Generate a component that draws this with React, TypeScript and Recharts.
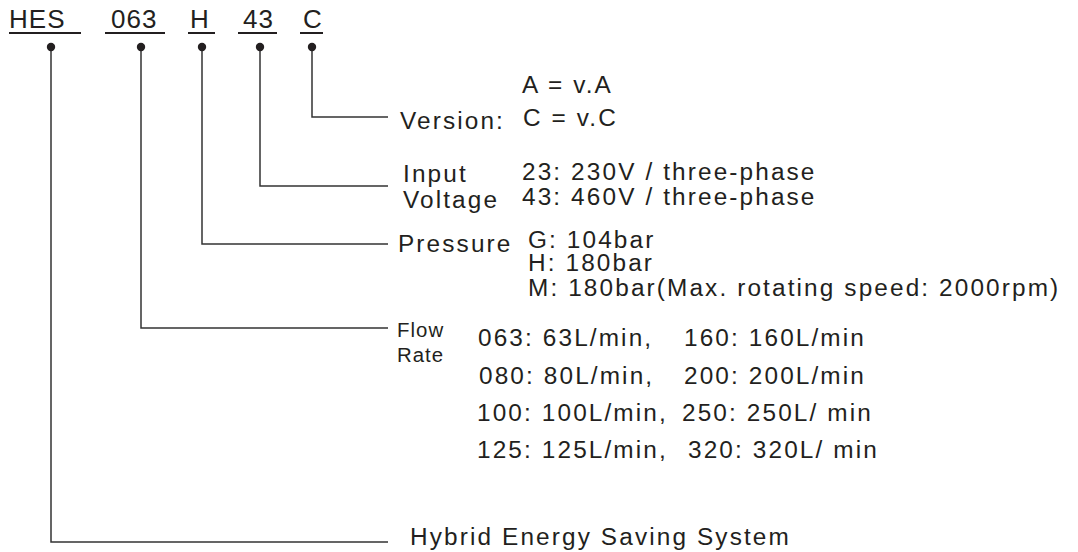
import React from "react";
import { ComposedChart, XAxis, YAxis, Line, Scatter } from "recharts";

const W = 1078;
const H = 552;

// model code parts and what each one means
const codeParts = ["HES", "063", "H", "43", "C"];
const versionOptions = ["A = v.A", "C = v.C"];
const voltageOptions = ["23: 230V / three-phase", "43: 460V / three-phase"];
const pressureOptions = ["G: 104bar", "H: 180bar", "M: 180bar(Max. rotating speed: 2000rpm)"];
const flowLeft = ["063: 63L/min,", "080: 80L/min,", "100: 100L/min,", "125: 125L/min,"];
const flowRight = ["160: 160L/min", "200: 200L/min", "250: 250L/ min", "320: 320L/ min"];
const seriesName = "Hybrid Energy Saving System";

// layout (pixel space of the picture)
const codeTextX = [9, 111, 190, 243, 303];
const underlineSpan = [
  [9, 81],
  [105, 165],
  [188, 215],
  [238, 277],
  [300, 323],
];
const dotX = [51, 141, 202, 260, 312];
const branchY = [542, 328, 244, 186, 117];
const rowY = [346, 384, 421, 458];
const BRANCH_END = 388;
const CODE_BASE = 28;
const UNDERLINE_Y = 33;
const DOT_Y = 47;

const INK = "#231f20";
const FONT = "'Liberation Sans', Arial, Helvetica, sans-serif";

const codeLabels = codeParts.map((text, i) => ({ x: codeTextX[i], y: CODE_BASE, text }));
const dots = dotX.map((x) => ({ x, y: DOT_Y }));

const underlines = underlineSpan.map(([a, b]) => [
  { x: a, y: UNDERLINE_Y },
  { x: b, y: UNDERLINE_Y },
]);
const branches = dotX.map((x, i) => [
  { x, y: DOT_Y },
  { x, y: branchY[i] },
  { x: BRANCH_END, y: branchY[i] },
]);

const mainLabels = [
  { x: 522, y: 93, text: versionOptions[0] },
  { x: 400, y: 129, text: "Version:" },
  { x: 523, y: 126, text: versionOptions[1] },
  { x: 403, y: 182, text: "Input" },
  { x: 403, y: 208, text: "Voltage" },
  { x: 522, y: 180, text: voltageOptions[0] },
  { x: 522, y: 205, text: voltageOptions[1] },
  { x: 398, y: 252, text: "Pressure" },
  { x: 528, y: 248, text: pressureOptions[0] },
  { x: 528, y: 271, text: pressureOptions[1] },
  { x: 528, y: 296, text: pressureOptions[2] },
  ...flowLeft.map((text, i) => ({ x: [478, 479, 477, 477][i], y: rowY[i], text })),
  ...flowRight.map((text, i) => ({ x: [684, 684, 682, 688][i], y: rowY[i], text })),
  { x: 410, y: 545, text: seriesName },
];

const smallLabels = [
  { x: 397, y: 337, text: "Flow" },
  { x: 397, y: 362, text: "Rate" },
];

const textShape = (size: number, stretch: number, spacing: number) => (props: any) => {
  const { cx, cy, payload } = props;
  return (
    <text
      transform={`translate(${cx},${cy}) scale(${stretch},1)`}
      fontFamily={FONT}
      fontSize={size}
      letterSpacing={spacing}
      fill={INK}
    >
      {payload.text}
    </text>
  );
};

const dotShape = (props: any) => <circle cx={props.cx} cy={props.cy} r={4.2} fill={INK} />;

export default function App() {
  return (
    <div style={{ position: "absolute", left: 0, top: 0, background: "#fff" }}>
      <ComposedChart width={W} height={H} margin={{ top: 0, right: 0, bottom: 0, left: 0 }}>
        <XAxis type="number" dataKey="x" domain={[0, W]} hide />
        <YAxis type="number" dataKey="y" domain={[0, H]} reversed hide width={0} />
        {underlines.map((pts, i) => (
          <Line
            key={`u${i}`}
            data={pts}
            dataKey="y"
            type="linear"
            stroke={INK}
            strokeWidth={2}
            dot={false}
            activeDot={false}
            isAnimationActive={false}
          />
        ))}
        {branches.map((pts, i) => (
          <Line
            key={`b${i}`}
            data={pts}
            dataKey="y"
            type="linear"
            stroke="#333"
            strokeWidth={1.5}
            dot={false}
            activeDot={false}
            isAnimationActive={false}
          />
        ))}
        <Scatter data={dots} shape={dotShape} isAnimationActive={false} />
        <Scatter data={codeLabels} shape={textShape(25, 1.04, 1)} isAnimationActive={false} />
        <Scatter data={mainLabels} shape={textShape(23, 1.06, 2)} isAnimationActive={false} />
        <Scatter data={smallLabels} shape={textShape(20, 1.02, 1)} isAnimationActive={false} />
      </ComposedChart>
    </div>
  );
}
